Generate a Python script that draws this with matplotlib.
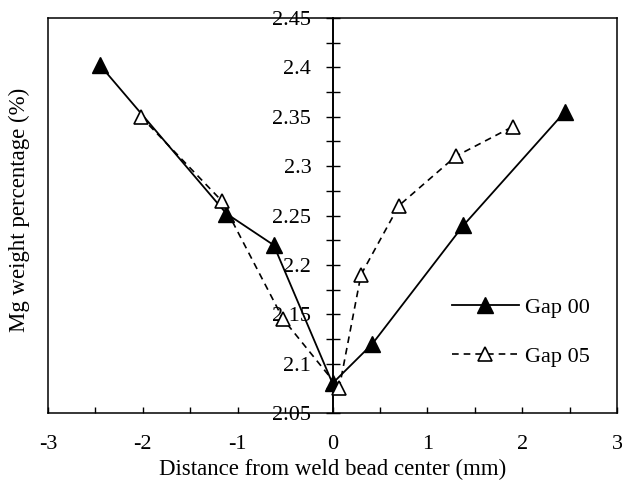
import matplotlib
matplotlib.use("Agg")
import matplotlib.pyplot as plt
from matplotlib.ticker import MultipleLocator
from matplotlib.lines import Line2D

gap00_x = [-2.45, -1.12, -0.62, 0.0, 0.42, 1.38, 2.45]
gap00_y = [2.402, 2.252, 2.220, 2.080, 2.120, 2.240, 2.355]
gap05_x = [-2.02, -1.17, -0.52, 0.07, 0.30, 0.70, 1.30, 1.90]
gap05_y = [2.350, 2.265, 2.145, 2.075, 2.190, 2.260, 2.310, 2.340]
series_names = ["Gap 00", "Gap 05"]
xticks = [-3, -2, -1, 0, 1, 2, 3]
yticks = [2.05, 2.1, 2.15, 2.2, 2.25, 2.3, 2.35, 2.4, 2.45]

plt.rcParams['font.family'] = ['Liberation Serif', 'DejaVu Serif']
plt.rcParams['font.size'] = 16

fig = plt.figure(figsize=(6.22, 4.88), dpi=100)
ax = fig.add_axes([0.0772, 0.1537, 0.9148, 0.8094])

ax.plot(gap00_x, gap00_y, color='black', lw=1.3, ls='-', marker='^',
        ms=11.5, mfc='black', mec='black', label=series_names[0], zorder=3)
ax.plot(gap05_x, gap05_y, color='black', lw=1.2, ls=(0, (4, 3)), marker='^',
        ms=9.5, mfc='white', mec='black', mew=1.2, label=series_names[1], zorder=3)

ax.set_xlim(-3, 3)
ax.set_ylim(2.05, 2.45)

ax.spines['left'].set_position(('data', 0))
ax.spines['left'].set_linewidth(1.4)
for s in ['top', 'right', 'bottom']:
    ax.spines[s].set_linewidth(1.1)
# left border of the frame
ax.add_line(Line2D([0, 0], [0, 1], transform=ax.transAxes, color='black',
                   lw=1.1, clip_on=False))

ax.set_xticks(xticks)
ax.set_xticklabels([f"{v:d}" for v in xticks])
ax.xaxis.set_minor_locator(MultipleLocator(0.5))
ax.tick_params(axis='x', which='both', direction='in', length=4, width=1,
               top=False, pad=16, labelsize=16)

ax.set_yticks(yticks)
ax.set_yticklabels([f"{v:g}" for v in yticks])
ax.yaxis.set_minor_locator(MultipleLocator(0.025))
ax.tick_params(axis='y', which='both', direction='inout', length=9.5, width=1,
               right=False, pad=10.5, labelsize=16)

ax.set_xlabel("Distance from weld bead center (mm)", fontsize=16.5, labelpad=3)
ax.set_ylabel("Mg weight percentage (%)", fontsize=16.5)
ax.yaxis.set_label_coords(-0.032, 0.515)

leg = ax.legend(loc='upper left', bbox_to_anchor=(0.71, 0.292), frameon=False,
                handlelength=3.0, labelspacing=1.25, handletextpad=0.3,
                borderpad=0, borderaxespad=0, fontsize=16)

fig.savefig("out.png", dpi=100)
